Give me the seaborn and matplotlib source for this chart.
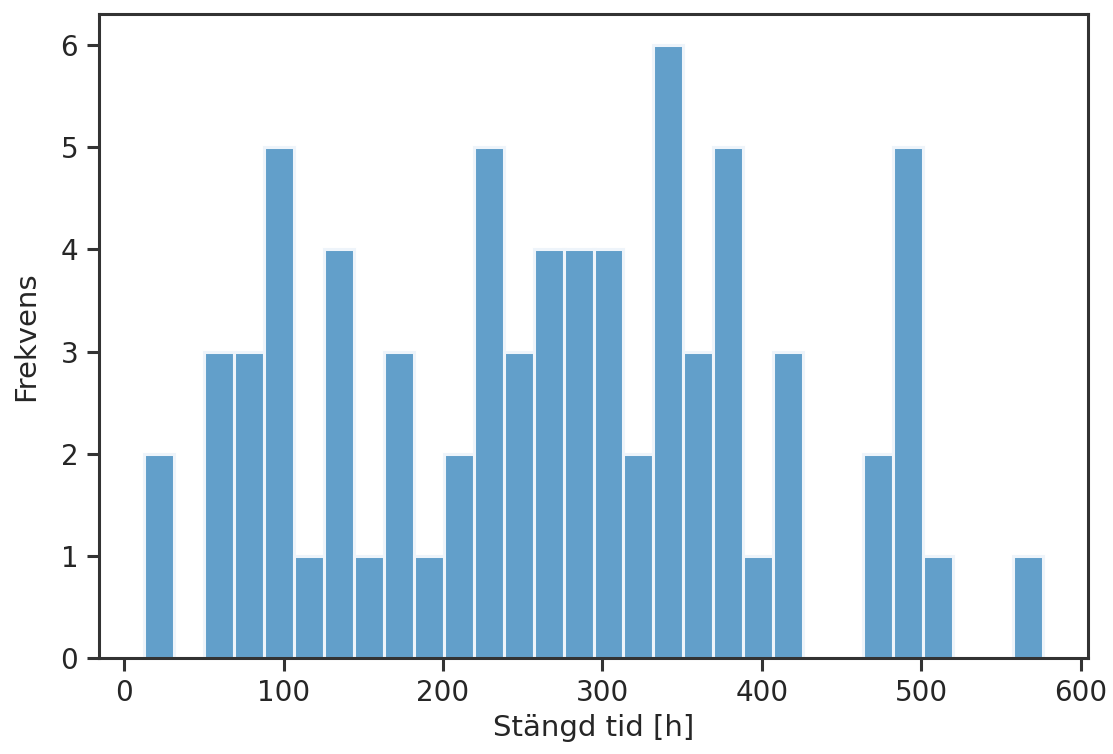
import numpy as np
import pandas as pd
import matplotlib
matplotlib.use("Agg")
import matplotlib.pyplot as plt
import seaborn as sns

# Histogram data
bin_start = 12.5
bin_end = 576.3
n_bins = 30
counts = [2, 0, 3, 3, 5, 1, 4, 1, 3, 1, 2, 5, 3, 4, 4, 4, 2, 6, 3, 5, 1, 3, 0, 0, 2, 5, 1, 0, 0, 1]
x_label = "Stängd tid [h]"
y_label = "Frekvens"

edges = np.linspace(bin_start, bin_end, n_bins + 1)
centers = (edges[:-1] + edges[1:]) / 2
df = pd.DataFrame({"tid": centers, "n": counts})

sns.set_style("ticks")
plt.rcParams.update({
    "font.family": ["DejaVu Sans"],
    "axes.edgecolor": "#333333",
    "axes.linewidth": 2.2,
    "xtick.color": "#333333",
    "ytick.color": "#333333",
    "xtick.labelcolor": "#262626",
    "ytick.labelcolor": "#262626",
    "xtick.major.size": 9,
    "ytick.major.size": 9,
    "xtick.major.width": 2.2,
    "ytick.major.width": 2.2,
    "xtick.major.pad": 6,
    "ytick.major.pad": 6,
    "axes.labelcolor": "#262626",
})

fig = plt.figure(figsize=(11.13, 7.54), dpi=100)
ax = fig.add_axes([0.089, 0.127, 0.8885, 0.854])
sns.histplot(data=df, x="tid", weights="n", bins=n_bins,
             binrange=(bin_start, bin_end), ax=ax,
             color="#1f77b4", alpha=0.7, edgecolor="#eef4fa", linewidth=2.2)
ax.set_xlabel(x_label, fontsize=21, labelpad=5)
ax.set_ylabel(y_label, fontsize=21, labelpad=15)
ax.tick_params(labelsize=20)
ax.set_xticks([0, 100, 200, 300, 400, 500, 600])
ax.set_yticks(range(0, 7))
ax.margins(x=0.05)
for s in ax.spines.values():
    s.set_visible(True)
fig.savefig("out.png", dpi=100)
